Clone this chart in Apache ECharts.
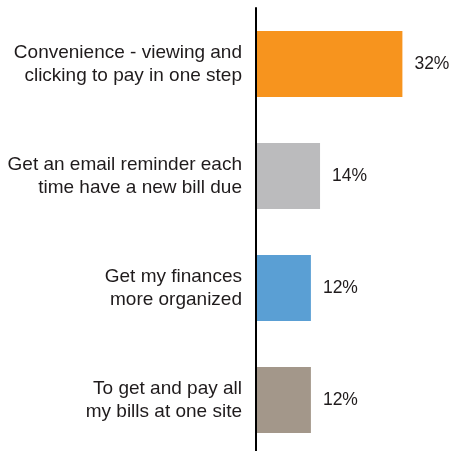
<!DOCTYPE html>
<html>
<head>
<meta charset="utf-8">
<script src="https://cdn.jsdelivr.net/npm/echarts@6/dist/echarts.min.js"></script>
<style>
  html, body { margin: 0; padding: 0; background: #ffffff; }
  #chart { width: 452px; height: 451px; }
</style>
</head>
<body>
<div id="chart"></div>
<script>
// Reasons for paying bills online (share of respondents, %)
const categories = [
  'Convenience - viewing and\nclicking to pay in one step',
  'Get an email reminder each\ntime have a new bill due',
  'Get my finances\nmore organized',
  'To get and pay all\nmy bills at one site'
];
const shares = [32, 14, 12, 12];
const barColors = ['#F7941E', '#BBBBBD', '#5A9FD4', '#A3978A'];

const textColor = '#1F1B1C';
const fontFamily = '"Liberation Sans", Arial, sans-serif';

const chart = echarts.init(document.getElementById('chart'), null, { renderer: 'canvas' });

chart.setOption({
  animation: false,
  backgroundColor: '#ffffff',
  grid: {
    left: 256, top: 8, width: 183, height: 448,
    containLabel: false,
    outerBoundsMode: 'none'
  },
  xAxis: {
    type: 'value',
    min: 0,
    max: 40,
    show: false
  },
  yAxis: {
    type: 'category',
    data: categories,
    inverse: true,
    z: 5,
    axisLine: { show: true, lineStyle: { color: '#000000', width: 2 } },
    axisTick: { show: false },
    splitLine: { show: false },
    axisLabel: {
      margin: 14,
      align: 'right',
      color: textColor,
      fontFamily: fontFamily,
      fontSize: 19,
      lineHeight: 23
    }
  },
  series: [{
    type: 'bar',
    barWidth: 66,
    data: shares.map((v, i) => ({ value: v, itemStyle: { color: barColors[i] } })),
    label: {
      show: true,
      position: 'right',
      distance: 12,
      formatter: p => p.value + '%',
      color: textColor,
      fontFamily: fontFamily,
      fontSize: 17.5
    }
  }]
});
</script>
</body>
</html>
